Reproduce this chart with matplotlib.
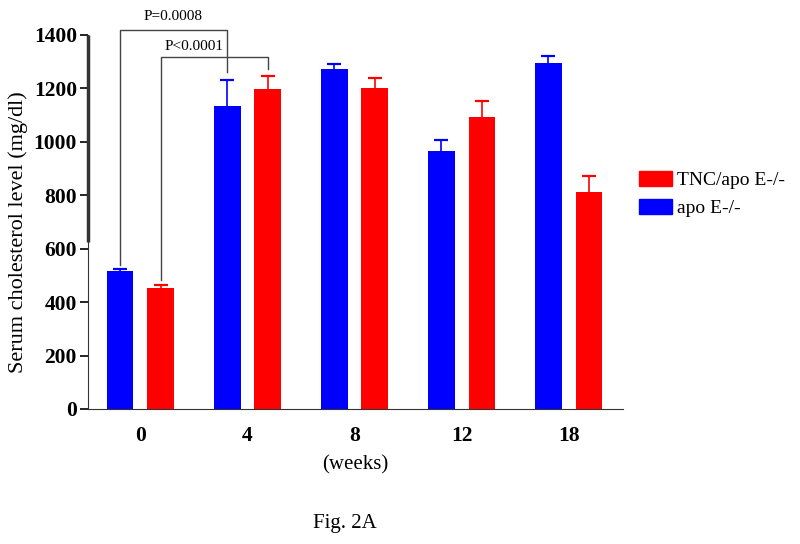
import numpy as np
import matplotlib
matplotlib.use("Agg")
import matplotlib.pyplot as plt
from matplotlib.patches import Patch

plt.rcParams['font.family'] = ['Liberation Serif', 'DejaVu Serif']

weeks = ["0", "4", "8", "12", "18"]
apoe = [518, 1134, 1272, 967, 1294]
apoe_err = [5, 98, 18, 41, 29]
tnc = [453, 1197, 1202, 1092, 811]
tnc_err = [10, 50, 36, 62, 62]

fig = plt.figure(figsize=(8, 5.44), dpi=100)
ax = fig.add_axes([0.11, 0.2482, 0.669, 0.6875])

x = np.arange(len(weeks))
w = 0.25
off = 0.19


def bars_with_err(xpos, vals, errs, color):
    vals = np.array(vals)
    errs = np.array(errs)
    ax.bar(xpos, vals, w, color=color)
    # only the upper half of the error bar, cap on top
    ax.vlines(xpos, vals, vals + errs, color=color, lw=1.2)
    ax.plot(xpos, vals + errs, ls="none", marker="_", ms=10, mew=1.6,
            color=color)


bars_with_err(x - off, apoe, apoe_err, "#0000ff")
bars_with_err(x + off, tnc, tnc_err, "#ff0000")

ax.set_xlim(-0.49, 4.51)
ax.set_ylim(0, 1400)
ax.set_yticks(range(0, 1401, 200))
ax.set_xticks(x)
ax.set_xticklabels(weeks, fontsize=15.5, fontweight="bold")
ax.tick_params(axis="x", length=0, pad=12)
ax.tick_params(axis="y", length=6, width=1.2, labelsize=15.5, pad=2)
for lbl in ax.get_yticklabels():
    lbl.set_fontweight("bold")
ax.spines["top"].set_visible(False)
ax.spines["right"].set_visible(False)
ax.spines["left"].set_color("#333333")
ax.spines["bottom"].set_color("#333333")
# thicker upper part of the y axis
ax.plot([-0.49, -0.49], [625, 1400], color="#333333", lw=2.5, clip_on=False,
        solid_capstyle="butt")

ax.set_ylabel("Serum cholesterol level (mg/dl)", fontsize=16)
ax.yaxis.set_label_coords(-0.112, 0.473)
fig.text(0.444, 0.137, "(weeks)", fontsize=15, ha="center")
fig.text(0.431, 0.03, "Fig. 2A", fontsize=15, ha="center")

# significance brackets
k = dict(color="#444444", lw=1, clip_on=False)
ax.plot([0 - off, 0 - off, 1 - off, 1 - off], [539, 1419, 1419, 1262], **k)
ax.text(0.30, 1445, "P=0.0008", fontsize=11, ha="center", va="bottom")
ax.plot([0 + off, 0 + off, 1 + off, 1 + off], [483, 1318, 1318, 1273], **k)
ax.text(0.50, 1332, "P<0.0001", fontsize=11, ha="center", va="bottom")

handles = [Patch(color="#ff0000", label="TNC/apo E-/-"),
           Patch(color="#0000ff", label="apo E-/-")]
fig.legend(handles=handles, loc="upper left", bbox_to_anchor=(0.799, 0.686),
           frameon=False, fontsize=14, handlelength=1.7, handleheight=0.8,
           handletextpad=0.25, labelspacing=0.5, borderpad=0,
           borderaxespad=0)

fig.savefig("out.png", dpi=100)
